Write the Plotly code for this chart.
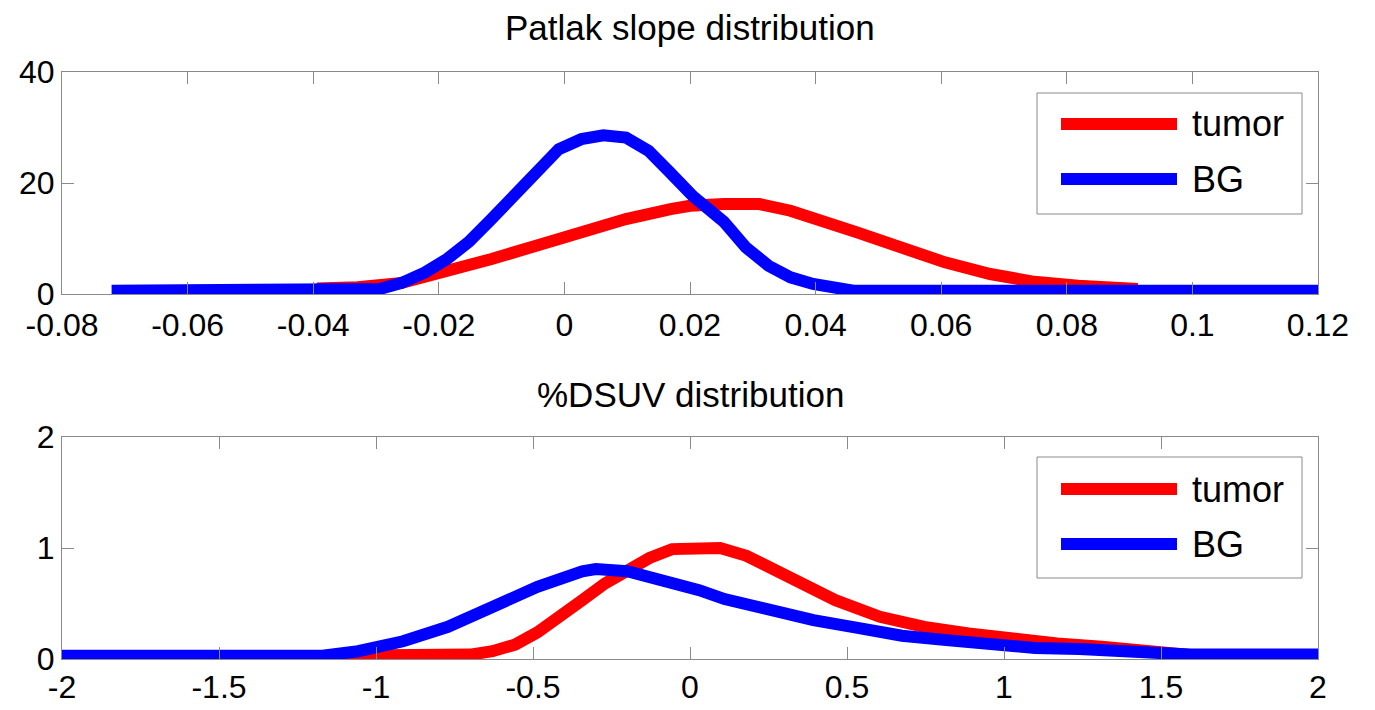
import plotly.graph_objects as go
from plotly.subplots import make_subplots

# ---- Data: Patlak slope distribution ----
patlak_tumor_x = [-0.0394, -0.0329, -0.0259, -0.0187, -0.0116, -0.0045, 0.0027, 0.0098,
                  0.0169, 0.0200, 0.0254, 0.0311, 0.0360, 0.0396, 0.0466, 0.0536,
                  0.0606, 0.0678, 0.0748, 0.0818, 0.0888, 0.0913]
patlak_tumor_y = [1.0, 1.2, 2.0, 3.9, 6.3, 8.7, 11.4, 13.5,
                  15.3, 15.9, 16.2, 16.2, 15.0, 13.8, 11.1, 8.4,
                  5.7, 3.6, 2.2, 1.5, 1.0, 0.9]

patlak_bg_x = [-0.0721, -0.0336, -0.0294, -0.0259, -0.0222, -0.0187, -0.0152, -0.0116,
               -0.0080, -0.0045, -0.0009, 0.0027, 0.0062, 0.0098, 0.0134, 0.0169,
               0.0205, 0.0254, 0.0289, 0.0325, 0.0360, 0.0396, 0.0431, 0.0460, 0.12]
patlak_bg_y = [0.6, 0.6, 0.9, 2.0, 3.9, 6.3, 9.4, 13.5,
               17.7, 22.5, 26.1, 27.9, 28.6, 28.2, 25.8, 21.8,
               17.6, 13.0, 8.4, 5.1, 3.0, 1.8, 1.0, 0.6, 0.6]

# ---- Data: %DSUV distribution ----
dsuv_tumor_x = [-1.157, -0.70, -0.629, -0.557, -0.486, -0.414, -0.343, -0.271, -0.20,
                -0.129, -0.057, 0.007, 0.096, 0.18, 0.322, 0.463, 0.605, 0.746,
                0.887, 1.028, 1.169, 1.311, 1.42, 1.523, 1.60, 1.85, 1.876, 2.0]
dsuv_tumor_y = [0.03, 0.04, 0.07, 0.13, 0.24, 0.37, 0.53, 0.68, 0.79,
                0.91, 0.99, 1.0, 1.0, 0.93, 0.74, 0.53, 0.38, 0.29,
                0.23, 0.18, 0.14, 0.11, 0.08, 0.03, 0.035, 0.035, 0.01, 0.01]

dsuv_bg_x = [-2.0, -1.17, -1.057, -0.914, -0.771, -0.629, -0.486, -0.343, -0.30,
             -0.20, -0.057, 0.029, 0.11, 0.251, 0.393, 0.534, 0.675, 0.816,
             0.958, 1.099, 1.240, 1.381, 1.523, 1.593, 2.0]
dsuv_bg_y = [0.03, 0.03, 0.07, 0.16, 0.29, 0.47, 0.65, 0.79, 0.81,
             0.79, 0.69, 0.62, 0.54, 0.44, 0.35, 0.28, 0.21, 0.17,
             0.13, 0.10, 0.09, 0.07, 0.07, 0.04, 0.04]

series_names = ["tumor", "BG"]
series_colors = ["#ff0000", "#0000ff"]

titles = ["Patlak slope distribution", "%DSUV distribution"]
top_xticks = [-0.08, -0.06, -0.04, -0.02, 0, 0.02, 0.04, 0.06, 0.08, 0.1, 0.12]
top_xticklabels = ["-0.08", "-0.06", "-0.04", "-0.02", "0", "0.02", "0.04", "0.06", "0.08", "0.1", "0.12"]
top_yticks = [0, 20, 40]
bot_xticks = [-2, -1.5, -1, -0.5, 0, 0.5, 1, 1.5, 2]
bot_xticklabels = ["-2", "-1.5", "-1", "-0.5", "0", "0.5", "1", "1.5", "2"]
bot_yticks = [0, 1, 2]

# ---- Layout geometry (pixels) ----
W, H = 1375, 710
ML, MR, MT, MB = 62, 57, 72, 51
PW, PH = W - ML - MR, H - MT - MB


def xp(px):
    return (px - ML) / PW


def yp(py):
    return (H - MB - py) / PH


top_dom = [yp(294), 1.0]
bot_dom = [0.0, yp(437)]

FONT = "Liberation Sans, Arial, Helvetica, sans-serif"
LW = 12

fig = make_subplots(rows=2, cols=1)

fig.add_trace(go.Scatter(x=patlak_tumor_x, y=patlak_tumor_y, mode="lines", name=series_names[0],
                         line=dict(color=series_colors[0], width=LW), showlegend=False), row=1, col=1)
fig.add_trace(go.Scatter(x=patlak_bg_x, y=patlak_bg_y, mode="lines", name=series_names[1],
                         line=dict(color=series_colors[1], width=LW), showlegend=False), row=1, col=1)
fig.add_trace(go.Scatter(x=dsuv_tumor_x, y=dsuv_tumor_y, mode="lines", name=series_names[0],
                         line=dict(color=series_colors[0], width=LW), showlegend=False), row=2, col=1)
fig.add_trace(go.Scatter(x=dsuv_bg_x, y=dsuv_bg_y, mode="lines", name=series_names[1],
                         line=dict(color=series_colors[1], width=LW), showlegend=False), row=2, col=1)

axis_common = dict(showline=True, linecolor="#8a8a8a", linewidth=1, mirror="ticks",
                   ticks="inside", ticklen=12, tickcolor="#8a8a8a", tickwidth=1,
                   showgrid=False, zeroline=False, automargin=False,
                   tickfont=dict(family=FONT, size=32, color="#000000"))

fig.update_xaxes(axis_common)
fig.update_yaxes(axis_common)

fig.update_layout(
    width=W, height=H,
    margin=dict(l=ML, r=MR, t=MT, b=MB, autoexpand=False),
    paper_bgcolor="white", plot_bgcolor="white",
    xaxis=dict(domain=[0, 1], range=[-0.08, 0.12], tickvals=top_xticks, ticktext=top_xticklabels,
               ticklabelstandoff=3),
    yaxis=dict(domain=top_dom, range=[0, 40], tickvals=top_yticks),
    xaxis2=dict(domain=[0, 1], range=[-2, 2], tickvals=bot_xticks, ticktext=bot_xticklabels,
                ticklabelstandoff=0),
    yaxis2=dict(domain=bot_dom, range=[0, 2], tickvals=bot_yticks),
    showlegend=False,
)

# titles
fig.add_annotation(text=titles[0], x=0.5, y=yp(49), xref="paper", yref="paper",
                   xanchor="center", yanchor="bottom", showarrow=False,
                   font=dict(family=FONT, size=35, color="#000000"))
fig.add_annotation(text=titles[1], x=0.5, y=yp(416), xref="paper", yref="paper",
                   xanchor="center", yanchor="bottom", showarrow=False,
                   font=dict(family=FONT, size=35, color="#000000"))

# legend boxes (one per subplot)
for box_top, line_ys in [(93, (124, 179)), (457, (489, 544))]:
    fig.add_shape(type="rect", xref="paper", yref="paper",
                  x0=xp(1037), x1=xp(1302), y0=yp(box_top), y1=yp(box_top + 121),
                  line=dict(color="#8a8a8a", width=1), fillcolor="white", layer="above")
    for name, color, ly in zip(series_names, series_colors, line_ys):
        fig.add_shape(type="line", xref="paper", yref="paper",
                      x0=xp(1061), x1=xp(1177), y0=yp(ly), y1=yp(ly),
                      line=dict(color=color, width=LW), layer="above")
        fig.add_annotation(text=name, x=xp(1190), y=yp(ly), xref="paper", yref="paper",
                           xanchor="left", yanchor="middle", showarrow=False,
                           font=dict(family=FONT, size=36, color="#000000"))

fig.write_html("out.html")
